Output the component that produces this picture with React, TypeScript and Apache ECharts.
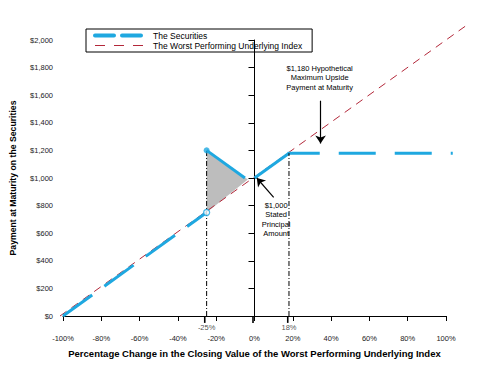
import React, { useEffect, useRef } from 'react';
import * as echarts from 'echarts';

// ---- data ----
const xMin = -100;
const xMax = 100;
const xInterval = 20;
const yMin = 0;
const yMax = 2000;
const yInterval = 200;
// extended (hidden) axes with the same scale, so lines can run past the visible axes
const xMaxExt = 116;
const yMaxExt = 2160;

const indexLine: number[][] = [[-100, 0], [112, 2120]];
const securitiesLow: number[][] = [[-100, 0], [-25, 750]];
const securitiesBuffer: number[][] = [[-25, 1200], [-5, 1000]];
const securitiesUp: number[][] = [[0, 1000], [18, 1180]];
const securitiesCap: number[][] = [[18, 1180], [103.5, 1180]];
const bufferTriangle: number[][] = [[-25, 1200], [-25, 750], [-3.5, 990]];
const filledDot: number[][] = [[-25, 1200]];
const openDot: number[][] = [[-25, 750]];

const guideX = [-25, 0, 18];
const guideTop = [1200, 1000, 1180];
const guideLabels = ['-25%', '', '18%'];

const capNote = '$1,180 Hypothetical\nMaximum Upside\nPayment at Maturity';
const capNoteAt = [34, 1725];
const capArrow = [[34.5, 1560], [34.5, 1250]];
const principalNote = '$1,000\nStated\nPrincipal\nAmount';
const principalNoteAt = [11.3, 700];
const principalArrow = [[10, 860], [1.2, 1000]];

const seriesNames = ['The Securities', 'The Worst Performing Underlying Index'];

const BLUE = '#1fa8e0';
const RED = '#b3283a';
const FONT = 'Liberation Sans, Arial, sans-serif';

// layout
const W = 477;
const H = 370;
const GL = 60;
const GR = 31;
const GT = 40;
const GB = 54;

export default function App() {
  const ref = useRef<HTMLDivElement>(null);
  useEffect(() => {
    if (!ref.current) return;
    const chart = echarts.init(ref.current, undefined, { renderer: 'svg' });

    const pxPerX = (W - GL - GR) / (xMax - xMin);
    const pxPerY = (H - GT - GB) / (yMax - yMin);
    const extRight = W - GL - (xMaxExt - xMin) * pxPerX;
    const extTop = H - GB - (yMaxExt - yMin) * pxPerY;

    const guideSeries: any[] = [];
    guideX.forEach((x, i) => {
      guideSeries.push({
        type: 'line',
        data: [[x, 0], [x, guideTop[i]]],
        symbol: 'none',
        silent: true,
        z: 6,
        lineStyle: { color: '#000', width: 1, type: [5, 2, 1, 2] },
      });
      guideSeries.push({
        type: 'line',
        xAxisIndex: 1,
        yAxisIndex: 1,
        data: [[x, -50], [x, 0]],
        symbol: 'none',
        clip: false,
        silent: true,
        z: 6,
        lineStyle: { color: '#000', width: 1.6 },
      });
    });

    const hiddenAxis = {
      type: 'value',
      show: false,
      axisLine: { show: false },
      axisTick: { show: false },
      axisLabel: { show: false },
      splitLine: { show: false },
    };

    const option: any = {
      animation: false,
      backgroundColor: '#fff',
      textStyle: { fontFamily: FONT },
      grid: [
        { left: GL, right: GR, top: GT, bottom: GB },
        { left: GL, right: extRight, top: extTop, bottom: GB },
      ],
      legend: {
        left: 86,
        top: 29,
        orient: 'vertical',
        itemWidth: 53,
        itemHeight: 10,
        itemGap: 1,
        padding: [2, 10, 2, 7],
        borderColor: '#000',
        borderWidth: 1,
        selectedMode: false,
        textStyle: { fontSize: 8.5, color: '#000', fontFamily: FONT },
        itemStyle: { opacity: 0 },
        data: [
          { name: seriesNames[0], itemStyle: { opacity: 0 }, lineStyle: { color: BLUE, width: 4, type: [19, 8], cap: 'round' } },
          { name: seriesNames[1], itemStyle: { opacity: 0 }, lineStyle: { color: RED, width: 1.2, type: [10, 9] } },
        ],
      },
      xAxis: [
        {
          type: 'value',
          gridIndex: 0,
          min: xMin,
          max: xMax,
          interval: xInterval,
          name: 'Percentage Change in the Closing Value of the Worst Performing Underlying Index',
          nameLocation: 'middle',
          nameGap: 32,
          nameTextStyle: { fontSize: 9.5, fontWeight: 'bold', color: '#000', fontFamily: FONT },
          axisLine: { lineStyle: { color: '#000', width: 1 } },
          axisTick: { show: true, length: 5, lineStyle: { color: '#000' } },
          axisLabel: { fontSize: 7.5, lineHeight: 8, color: '#222', margin: 18, formatter: (v: number) => `${v}%` },
          splitLine: { show: false },
        },
        { ...hiddenAxis, gridIndex: 1, min: xMin, max: xMaxExt },
      ],
      yAxis: [
        {
          type: 'value',
          gridIndex: 0,
          min: yMin,
          max: yMax,
          interval: yInterval,
          name: 'Payment at Maturity on the Securities',
          nameLocation: 'middle',
          nameGap: 46,
          nameTextStyle: { fontSize: 8.7, fontWeight: 'bold', color: '#000', fontFamily: FONT },
          axisLine: { show: true, lineStyle: { color: '#000', width: 1 } },
          axisTick: { show: true, length: 6, lineStyle: { color: '#000' } },
          axisLabel: { fontSize: 7.5, color: '#222', margin: 10, formatter: (v: number) => '$' + v.toLocaleString('en-US') },
          splitLine: { show: false },
        },
        { ...hiddenAxis, gridIndex: 1, min: yMin, max: yMaxExt },
      ],
      series: [
        {
          type: 'custom',
          silent: true,
          z: 1,
          data: [[bufferTriangle[0][0], bufferTriangle[0][1]]],
          renderItem: (_p: any, api: any) => ({
            type: 'polygon',
            shape: { points: bufferTriangle.map((p) => api.coord(p)) },
            style: { fill: '#bdbdbd' },
          }),
        },
        {
          name: seriesNames[1],
          type: 'line',
          xAxisIndex: 1,
          yAxisIndex: 1,
          data: indexLine,
          symbol: 'none',
          clip: false,
          z: 2,
          lineStyle: { color: RED, width: 1, type: [8, 6] },
        },
        {
          type: 'line',
          data: [],
          silent: true,
          markLine: {
            silent: true,
            symbol: ['none', 'arrow'],
            symbolSize: 8,
            label: { show: false },
            lineStyle: { color: '#000', width: 1.2, type: 'solid' },
            data: [
              [{ coord: capArrow[0] }, { coord: capArrow[1] }],
              [{ coord: principalArrow[0] }, { coord: principalArrow[1] }],
            ],
          },
          markPoint: {
            silent: true,
            symbolSize: 0,
            data: [
              { coord: capNoteAt, label: { formatter: capNote } },
              { coord: principalNoteAt, label: { formatter: principalNote } },
            ],
            label: { show: true, position: 'inside', fontSize: 7.5, lineHeight: 9.5, color: '#000', align: 'center', fontFamily: FONT },
          },
        },
        {
          name: seriesNames[0],
          type: 'line',
          data: securitiesLow,
          symbol: 'none',
          z: 3,
          lineStyle: { color: BLUE, width: 3, type: [36, 15] },
        },
        {
          name: seriesNames[0],
          type: 'line',
          data: securitiesBuffer,
          symbol: 'none',
          z: 3,
          lineStyle: { color: BLUE, width: 3 },
        },
        {
          name: seriesNames[0],
          type: 'line',
          data: securitiesUp,
          symbol: 'none',
          z: 3,
          lineStyle: { color: BLUE, width: 3 },
        },
        {
          name: seriesNames[0],
          type: 'line',
          xAxisIndex: 1,
          yAxisIndex: 1,
          data: securitiesCap,
          symbol: 'none',
          clip: false,
          z: 3,
          lineStyle: { color: BLUE, width: 3, type: [37, 19], dashOffset: 5 },
        },
        ...guideSeries,
        {
          type: 'scatter',
          data: guideX.map((x, i) => ({ value: [x, 0], label: { formatter: guideLabels[i] } })),
          symbolSize: 0,
          silent: true,
          clip: false,
          z: 7,
          label: { show: true, position: 'bottom', distance: 7, fontSize: 7.5, lineHeight: 8, color: '#222', fontFamily: FONT },
        },
        {
          type: 'scatter',
          data: filledDot,
          symbol: 'circle',
          symbolSize: 6,
          silent: true,
          z: 8,
          itemStyle: { color: BLUE },
        },
        {
          type: 'scatter',
          data: openDot,
          symbol: 'circle',
          symbolSize: 6,
          silent: true,
          z: 8,
          itemStyle: { color: '#fff', borderColor: BLUE, borderWidth: 1.3 },
        },
      ],
    };
    chart.setOption(option);
    return () => chart.dispose();
  }, []);
  return <div ref={ref} style={{ position: 'fixed', left: 0, top: 0, width: W, height: H, background: '#fff' }} />;
}
